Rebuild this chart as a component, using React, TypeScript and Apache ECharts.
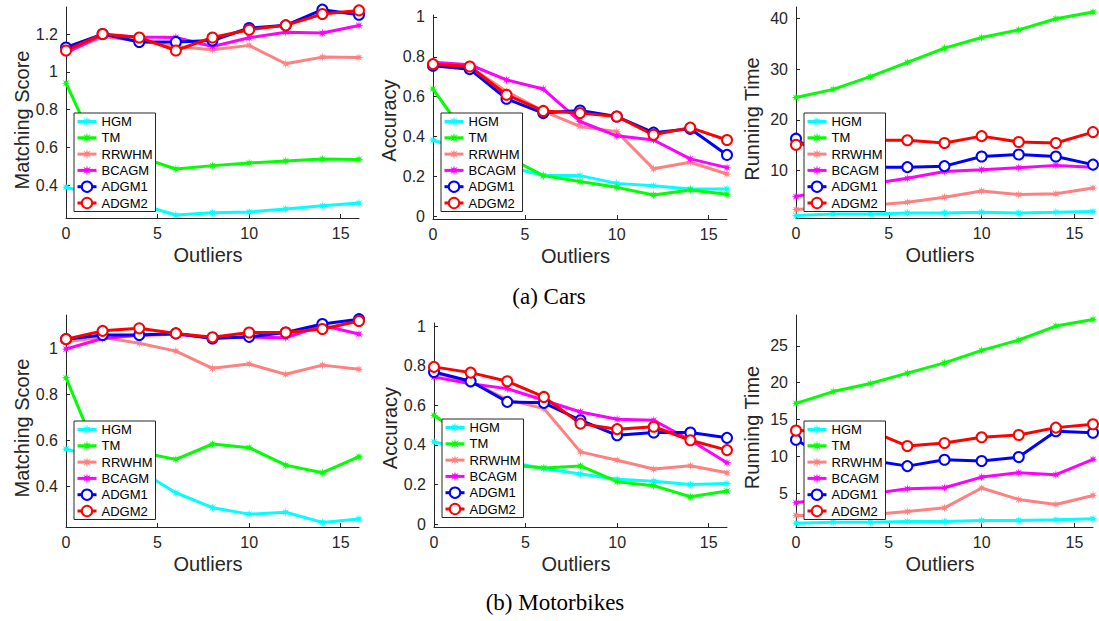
import React, { useEffect, useRef } from "react";
import * as echarts from "echarts";

// x positions: number of outliers
const outliers = [0, 2, 4, 6, 8, 10, 12, 14, 16];
const methods = ["HGM", "TM", "RRWHM", "BCAGM", "ADGM1", "ADGM2"];
const methodColors = ["#00FFFF", "#00FF00", "#FF8080", "#FF00FF", "#0000FF", "#FF0000"];

// Rows follow the order of `methods`
const carsScore = [
  [0.39, 0.34, 0.3, 0.243, 0.255, 0.259, 0.275, 0.292, 0.306],
  [0.94, 0.52, 0.55, 0.486, 0.504, 0.518, 0.529, 0.539, 0.537],
  [1.105, 1.185, 1.165, 1.134, 1.117, 1.14, 1.043, 1.078, 1.076],
  [1.1, 1.196, 1.184, 1.182, 1.134, 1.18, 1.21, 1.205, 1.245],
  [1.129, 1.2, 1.158, 1.158, 1.166, 1.232, 1.246, 1.329, 1.302],
  [1.113, 1.2, 1.182, 1.113, 1.182, 1.223, 1.246, 1.306, 1.325],
];
const carsAccuracy = [
  [0.382, 0.32, 0.25, 0.203, 0.203, 0.164, 0.152, 0.136, 0.136],
  [0.638, 0.38, 0.3, 0.203, 0.173, 0.144, 0.106, 0.131, 0.109],
  [0.765, 0.75, 0.626, 0.527, 0.45, 0.424, 0.237, 0.27, 0.211],
  [0.772, 0.76, 0.684, 0.638, 0.475, 0.403, 0.382, 0.287, 0.243],
  [0.755, 0.738, 0.589, 0.517, 0.53, 0.5, 0.419, 0.438, 0.307],
  [0.763, 0.751, 0.609, 0.528, 0.517, 0.5, 0.408, 0.444, 0.382],
];
const carsTime = [
  [1.18, 1.5, 1.5, 1.7, 1.7, 1.83, 1.7, 1.83, 1.97],
  [24.4, 26.0, 28.5, 31.3, 34.1, 36.2, 37.7, 39.9, 41.2],
  [2.36, 2.8, 3.15, 3.8, 4.8, 6.0, 5.3, 5.46, 6.6],
  [4.9, 6.5, 7.4, 8.5, 9.86, 10.2, 10.6, 11.05, 10.7],
  [16.3, 11.0, 10.7, 10.7, 10.9, 12.8, 13.2, 12.8, 11.2],
  [15.1, 15.9, 16.0, 16.0, 15.45, 16.8, 15.65, 15.45, 17.6],
];
const motoScore = [
  [0.563, 0.52, 0.47, 0.373, 0.308, 0.28, 0.288, 0.244, 0.259],
  [0.873, 0.49, 0.55, 0.518, 0.585, 0.569, 0.493, 0.46, 0.53],
  [1.03, 1.049, 1.023, 0.989, 0.914, 0.933, 0.888, 0.928, 0.91],
  [0.998, 1.044, 1.058, 1.062, 1.047, 1.05, 1.047, 1.1, 1.063],
  [1.041, 1.059, 1.059, 1.066, 1.044, 1.051, 1.07, 1.107, 1.128],
  [1.041, 1.077, 1.088, 1.066, 1.049, 1.07, 1.07, 1.085, 1.12],
];
const motoAccuracy = [
  [0.416, 0.37, 0.314, 0.281, 0.253, 0.227, 0.217, 0.2, 0.205],
  [0.55, 0.42, 0.3, 0.284, 0.294, 0.214, 0.194, 0.138, 0.167],
  [0.765, 0.72, 0.63, 0.584, 0.365, 0.323, 0.278, 0.295, 0.259],
  [0.744, 0.71, 0.685, 0.626, 0.567, 0.53, 0.525, 0.424, 0.31],
  [0.769, 0.722, 0.618, 0.613, 0.525, 0.449, 0.463, 0.463, 0.436],
  [0.795, 0.766, 0.722, 0.643, 0.508, 0.48, 0.492, 0.424, 0.374],
];
const motoTime = [
  [0.92, 1.05, 1.05, 1.15, 1.15, 1.29, 1.29, 1.38, 1.52],
  [17.2, 18.8, 19.9, 21.3, 22.7, 24.4, 25.8, 27.7, 28.6],
  [1.97, 2.0, 2.05, 2.5, 3.0, 5.7, 4.14, 3.46, 4.69],
  [3.69, 4.4, 4.9, 5.6, 5.73, 7.18, 7.77, 7.5, 9.58],
  [12.26, 9.3, 9.46, 8.67, 9.54, 9.36, 9.9, 13.4, 13.2],
  [13.5, 13.4, 13.5, 11.4, 11.8, 12.6, 12.9, 13.9, 14.35],
];

// Tick labels
const xTicks = [0, 5, 10, 15];
const carsScoreTicks = [0.4, 0.6, 0.8, 1, 1.2];
const motoScoreTicks = [0.4, 0.6, 0.8, 1];
const accuracyTicks = [0, 0.2, 0.4, 0.6, 0.8, 1];
const carsTimeTicks = [10, 20, 30, 40];
const motoTimeTicks = [5, 10, 15, 20, 25];

const captions = ["(a) Cars", "(b) Motorbikes"];

const AXIS_COLOR = "#262626";
const FONT = "Liberation Sans";

// Eight-pointed asterisk marker
const starSymbol =
  "path://" +
  Array.from({ length: 16 }, (_, k) => {
    const a = ((k * 22.5 - 90) * Math.PI) / 180;
    const r = k % 2 ? 0.38 : 1;
    return `${k ? "L" : "M"}${(r * Math.cos(a)).toFixed(3)},${(r * Math.sin(a)).toFixed(3)}`;
  }).join("") +
  "Z";

const panels = [
  { data: carsScore, yName: "Matching Score", min: 0.227, max: 1.343, ticks: carsScoreTicks,
    grid: { left: 66, top: 7, width: 293, height: 211 }, legend: { left: 74, top: 113 }, nameShift: 15 },
  { data: carsAccuracy, yName: "Accuracy", min: -0.015, max: 1.01, ticks: accuracyTicks,
    grid: { left: 433, top: 15, width: 294, height: 204 }, legend: { left: 441, top: 113 }, nameShift: 7 },
  { data: carsTime, yName: "Running Time", min: 0.7, max: 42.2, ticks: carsTimeTicks,
    grid: { left: 796, top: 7, width: 297, height: 211 }, legend: { left: 804, top: 113 }, nameShift: 13 },
  { data: motoScore, yName: "Matching Score", min: 0.224, max: 1.146, ticks: motoScoreTicks,
    grid: { left: 66, top: 315, width: 293, height: 212 }, legend: { left: 74, top: 421 }, nameShift: 14 },
  { data: motoAccuracy, yName: "Accuracy", min: -0.015, max: 1.017, ticks: accuracyTicks,
    grid: { left: 434, top: 323, width: 293, height: 204 }, legend: { left: 442, top: 419 }, nameShift: 6 },
  { data: motoTime, yName: "Running Time", min: 0.4, max: 29.2, ticks: motoTimeTicks,
    grid: { left: 796, top: 315, width: 297, height: 212 }, legend: { left: 804, top: 421 }, nameShift: 13 },
];

function buildOption() {
  const grid = panels.map((p) => ({ ...p.grid, containLabel: false }));

  const xAxis = panels.map((_, i) => ({
    type: "value",
    gridIndex: i,
    min: 0,
    max: 16,
    name: "Outliers",
    nameLocation: "middle",
    nameGap: 27,
    nameTextStyle: { fontSize: 20, color: AXIS_COLOR, fontFamily: FONT, padding: [0, 9, 0, 0] },
    axisLine: { show: true, onZero: false, lineStyle: { color: AXIS_COLOR, width: 1 } },
    axisTick: { show: true, inside: true, length: 4, customValues: xTicks, lineStyle: { color: AXIS_COLOR } },
    axisLabel: { customValues: xTicks, fontSize: 16, color: AXIS_COLOR, fontFamily: FONT, margin: 7 },
    splitLine: { show: false },
  }));

  const yAxis = panels.map((p, i) => ({
    type: "value",
    gridIndex: i,
    min: p.min,
    max: p.max,
    name: p.yName,
    nameLocation: "middle",
    nameGap: 34,
    nameTextStyle: { fontSize: 20, color: AXIS_COLOR, fontFamily: FONT, padding: [0, p.nameShift, 0, 0] },
    axisLine: { show: true, onZero: false, lineStyle: { color: AXIS_COLOR, width: 1 } },
    axisTick: { show: true, inside: true, length: 4, customValues: p.ticks, lineStyle: { color: AXIS_COLOR } },
    axisLabel: { customValues: p.ticks, fontSize: 16, color: AXIS_COLOR, fontFamily: FONT, margin: 8 },
    splitLine: { show: false },
  }));

  const legend = panels.map((p) => ({
    orient: "vertical",
    left: p.legend.left,
    top: p.legend.top,
    data: methods,
    selectedMode: false,
    padding: [2, 3, 2, 2],
    itemWidth: 19,
    itemHeight: 13,
    itemGap: 3.3,
    backgroundColor: "#fff",
    borderColor: AXIS_COLOR,
    borderWidth: 1,
    borderRadius: 0,
    lineStyle: { width: 3 },
    textStyle: { fontSize: 13, color: "#000", fontFamily: FONT, lineHeight: 13 },
  }));

  const series: any[] = [];
  panels.forEach((p, i) => {
    methods.forEach((m, j) => {
      const color = methodColors[j];
      const circle = j >= 4;
      series.push({
        type: "line",
        name: m,
        xAxisIndex: i,
        yAxisIndex: i,
        data: outliers.map((x, k) => [x, p.data[j][k]]),
        symbol: circle ? "emptyCircle" : starSymbol,
        symbolSize: circle ? 10 : 9,
        showAllSymbol: true,
        lineStyle: { color, width: 3 },
        itemStyle: { color, borderColor: color, borderWidth: circle ? 2.8 : 0 },
        emphasis: { disabled: true },
        silent: true,
      });
    });
  });

  const graphic = [
    { type: "text", x: 549, y: 296, style: { text: captions[0], fontSize: 23, fontFamily: "Liberation Serif", fill: "#000", align: "center", verticalAlign: "middle" } },
    { type: "text", x: 555, y: 602, style: { text: captions[1], fontSize: 23, fontFamily: "Liberation Serif", fill: "#000", align: "center", verticalAlign: "middle" } },
  ];

  return { animation: false, backgroundColor: "#fff", textStyle: { fontFamily: FONT }, grid, xAxis, yAxis, legend, series, graphic };
}

export default function App() {
  const ref = useRef<HTMLDivElement>(null);
  useEffect(() => {
    if (!ref.current) return;
    const chart = echarts.init(ref.current, undefined, { renderer: "svg" });
    chart.setOption(buildOption() as any);
    return () => chart.dispose();
  }, []);
  return (
    <div
      ref={ref}
      style={{ position: "absolute", left: 0, top: 0, width: 1099, height: 621, background: "#fff" }}
    />
  );
}
